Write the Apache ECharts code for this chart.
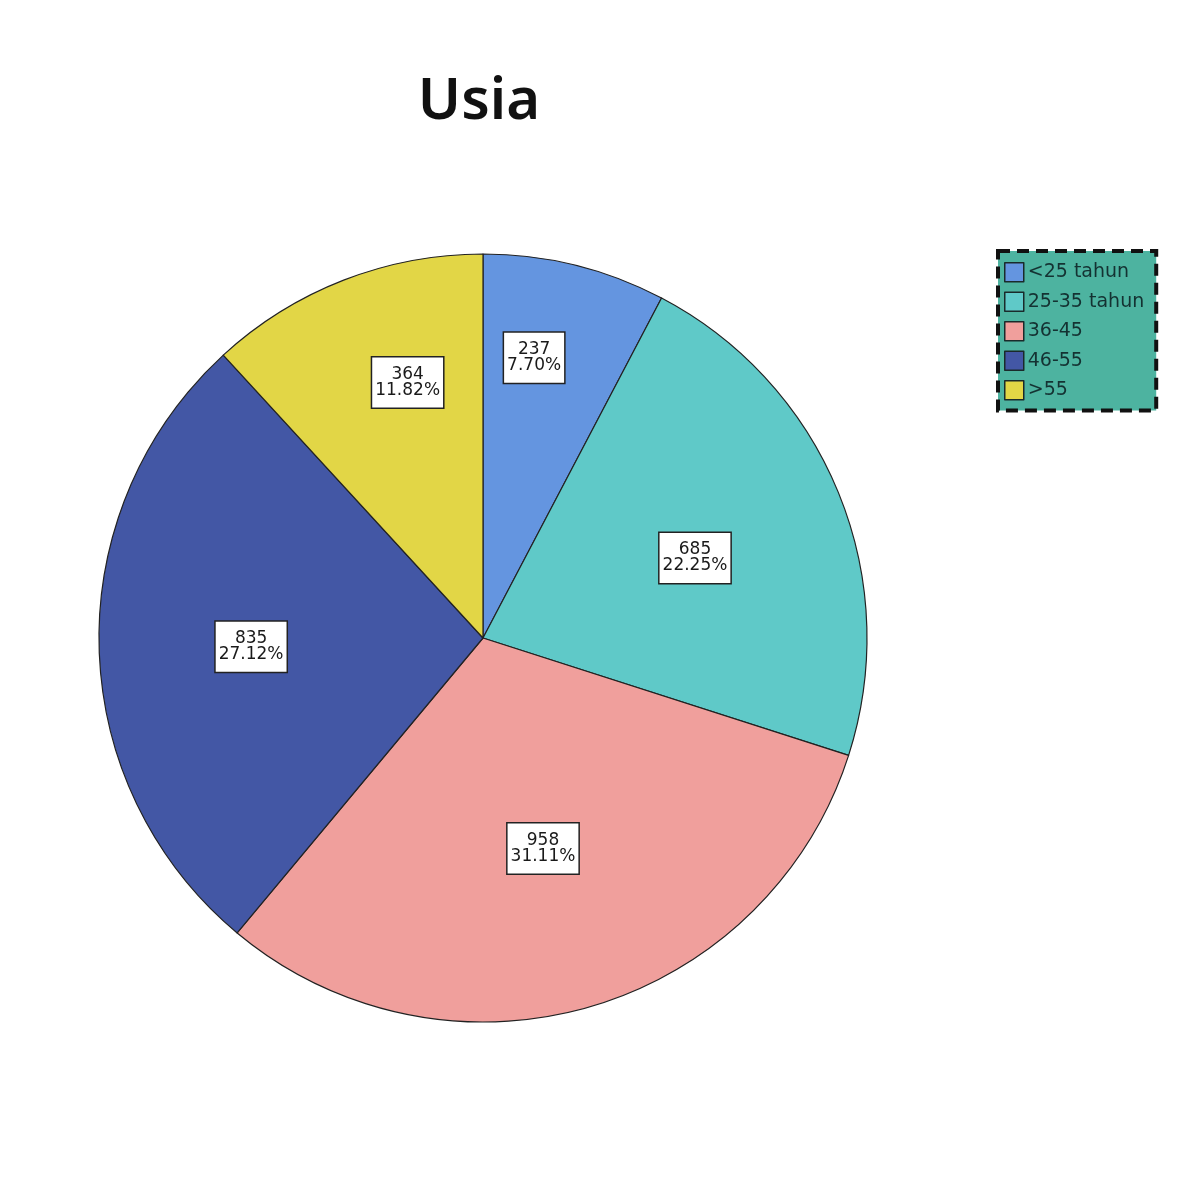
<!DOCTYPE html>
<html><head><meta charset="utf-8">
<script src="https://cdn.jsdelivr.net/npm/echarts@6/dist/echarts.min.js"></script>
<style>html,body{margin:0;padding:0;background:#fff}#c{width:1197px;height:1200px}</style>
</head><body><div id="c"></div>
<script>
var categories = ['<25 tahun', '25-35 tahun', '36-45', '46-55', '>55'];
var counts = [237, 685, 958, 835, 364];
var percentLabels = ['7.70%', '22.25%', '31.11%', '27.12%', '11.82%'];
var colors = ['#6495e0', '#5fc9c8', '#f09f9c', '#4357a5', '#e2d646'];
// label placement styling (radial scale of the default inside anchor + small nudge)
var labelRadiusFactor = [1.48, 1.18, 1.14, 1.21, 1.39];
var labelNudge = [[-18, 0], [-1, 7], [-2, -3], [4, 3], [23, -3]];

var cx = 483, cy = 638, R = 384;
var chart = echarts.init(document.getElementById('c'));
chart.setOption({
  animation: false,
  title: {
    text: 'Usia', left: 474, top: 68, textAlign: 'center',
    textStyle: {fontFamily: 'Noto Sans', fontWeight: 600, fontSize: 58, color: '#111'}
  },
  legend: {
    orient: 'vertical', left: 998, top: 251,
    backgroundColor: '#4db3a0', borderColor: '#111', borderWidth: 4, borderType: [12, 7],
    padding: [11, 12, 10, 6], itemWidth: 19, itemHeight: 19, itemGap: 9, icon: 'rect',
    itemStyle: {borderColor: '#1a2a2a', borderWidth: 1.5},
    textStyle: {fontFamily: 'DejaVu Sans', fontSize: 19, color: '#143232', lineHeight: 19, padding: [0,0,0,-1]},
    data: categories
  },
  series: [{
    type: 'pie', center: [cx, cy], radius: [0, R], startAngle: 90, clockwise: true,
    data: categories.map(function (c, i) { return {name: c, value: counts[i]}; }),
    itemStyle: {borderColor: '#222', borderWidth: 1.2, color: function (p) { return colors[p.dataIndex]; }},
    label: {
      position: 'inside',
      formatter: function (p) { return p.value + '\n' + percentLabels[p.dataIndex]; },
      fontFamily: 'DejaVu Sans', fontSize: 17, lineHeight: 16, color: '#1a1a1a',
      backgroundColor: '#fff', borderColor: '#222', borderWidth: 1.5, padding: [9, 3, 9, 3]
    },
    labelLine: {show: false},
    emphasis: {disabled: true},
    labelLayout: function (p) {
      var r = p.labelRect;
      var lx = r.x + r.width / 2, ly = r.y + r.height / 2;
      var k = labelRadiusFactor[p.dataIndex];
      var n = labelNudge[p.dataIndex];
      return {x: cx + (lx - cx) * k + n[0], y: cy + (ly - cy) * k + n[1]};
    }
  }]
});
</script></body></html>
